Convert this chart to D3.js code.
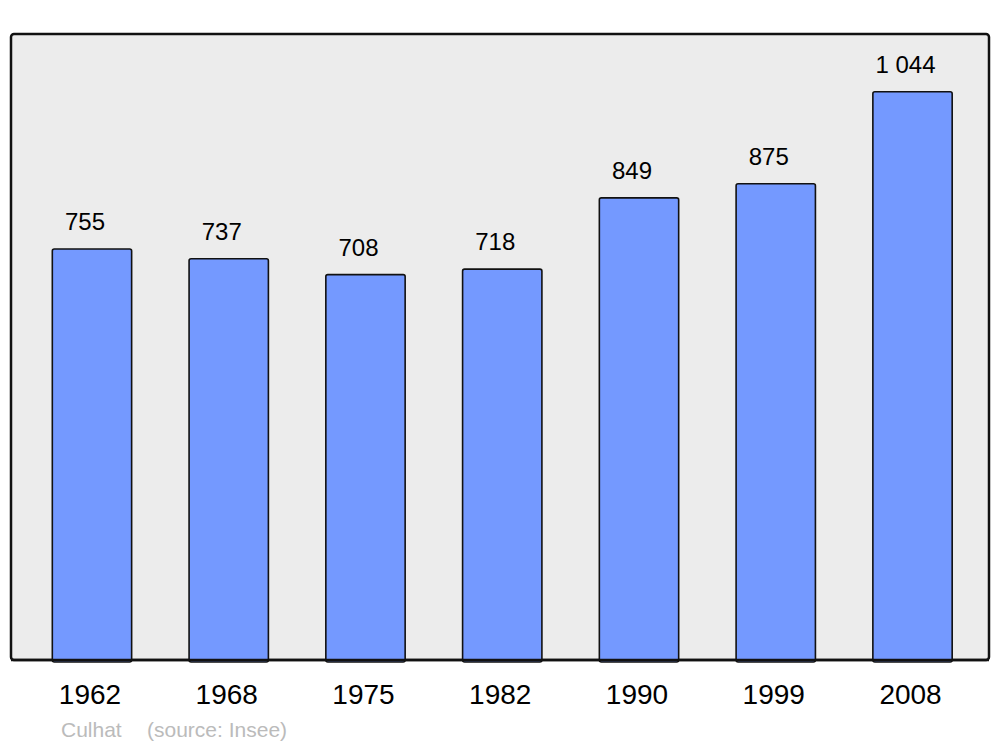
<!DOCTYPE html>
<html>
<head>
<meta charset="utf-8">
<script src="https://cdn.jsdelivr.net/npm/d3@7"></script>
<style>
  body { margin: 0; background: #fff; }
  text { font-family: "Liberation Sans", Arial, sans-serif; }
</style>
</head>
<body>
<svg id="chart" width="1000" height="747"></svg>
<script>
// données
const annees = ["1962", "1968", "1975", "1982", "1990", "1999", "2008"];
const population = [755, 737, 708, 718, 849, 875, 1044];
const etiquettes = ["755", "737", "708", "718", "849", "875", "1 044"];

const svg = d3.select("#chart");

// cadre
const panel = { x0: 11, y0: 34, x1: 989, y1: 660 };

svg.append("rect")
  .attr("x", panel.x0)
  .attr("y", panel.y0)
  .attr("width", panel.x1 - panel.x0)
  .attr("height", panel.y1 - panel.y0)
  .attr("rx", 3)
  .attr("fill", "#ececec")
  .attr("stroke", "#111")
  .attr("stroke-width", 2.5);

const x = d3.scaleBand()
  .domain(annees)
  .range([23.6, 980.9])
  .paddingInner(0.42)
  .paddingOuter(0.21);

const y = d3.scaleLinear()
  .domain([0, 1150])
  .range([panel.y1, panel.y0]);

const data = annees.map((a, i) => ({ annee: a, val: population[i], lab: etiquettes[i] }));

// barres
svg.selectAll("rect.bar")
  .data(data)
  .enter().append("rect")
    .attr("class", "bar")
    .attr("x", d => x(d.annee))
    .attr("y", d => y(d.val))
    .attr("width", x.bandwidth())
    .attr("height", d => panel.y1 - y(d.val) + 2)
    .attr("rx", 2)
    .attr("fill", "#7499ff")
    .attr("stroke", "#111")
    .attr("stroke-width", 1.6);

// redessine le bas du cadre par-dessus
svg.append("line")
  .attr("x1", panel.x0)
  .attr("x2", panel.x1)
  .attr("y1", panel.y1)
  .attr("y2", panel.y1)
  .attr("stroke", "#111")
  .attr("stroke-width", 2.5);

// valeurs
svg.selectAll("text.value")
  .data(data)
  .enter().append("text")
    .attr("class", "value")
    .attr("x", d => x(d.annee) + x.bandwidth() / 2 - 7)
    .attr("y", d => y(d.val) - 19)
    .attr("text-anchor", "middle")
    .style("font-size", "24px")
    .text(d => d.lab);

// axe x
const axe = svg.append("g")
  .attr("transform", `translate(0,${panel.y1})`)
  .call(d3.axisBottom(x).tickSize(0).tickPadding(24));
axe.select(".domain").remove();
axe.selectAll("text")
  .style("font-family", "Liberation Sans, Arial, sans-serif")
  .style("font-size", "28px")
  .attr("fill", "#000")
  .attr("dx", "-2");

// source
svg.append("text")
  .attr("x", 61)
  .attr("y", 737)
  .attr("fill", "#bbb")
  .style("font-size", "21px")
  .text("Culhat");
svg.append("text")
  .attr("x", 147)
  .attr("y", 737)
  .attr("fill", "#bbb")
  .style("font-size", "21px")
  .text("(source: Insee)");
</script>
</body>
</html>
